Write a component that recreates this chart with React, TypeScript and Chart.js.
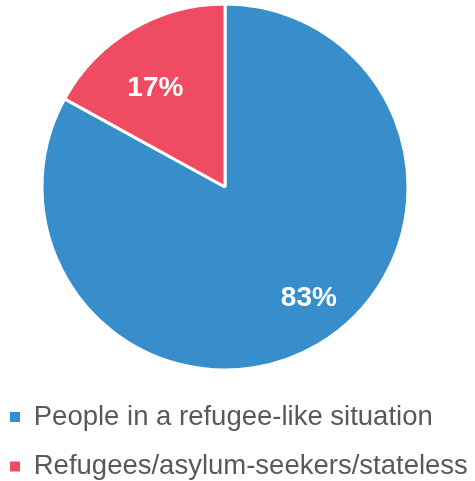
import React, { useEffect, useRef } from "react";
import { Chart, registerables } from "chart.js";

Chart.register(...registerables);

const CATEGORIES = ["People in a refugee-like situation", "Refugees/asylum-seekers/stateless"];
const VALUES = [83, 17];
const COLORS = ["#378ECB", "#EF4C63"];
const LEGEND_TEXT_COLOR = "#595959";

const valueLabels = {
  id: "valueLabels",
  afterDatasetsDraw(chart: any, _args: any, opts: any) {
    const { ctx } = chart;
    const meta = chart.getDatasetMeta(0);
    ctx.save();
    ctx.font = "bold 28px 'Liberation Sans', Arial, sans-serif";
    ctx.fillStyle = "#ffffff";
    ctx.textAlign = "center";
    ctx.textBaseline = "middle";
    meta.data.forEach((arc: any, i: number) => {
      const { x, y, startAngle, endAngle, outerRadius } = arc.getProps(
        ["x", "y", "startAngle", "endAngle", "outerRadius"],
        true
      );
      const mid = (startAngle + endAngle) / 2 + (opts.angleShift[i] * Math.PI) / 180;
      const r = outerRadius * opts.radiusFactor[i];
      ctx.fillText(`${VALUES[i]}%`, x + Math.cos(mid) * r, y + Math.sin(mid) * r);
    });
    ctx.restore();
  },
};

export default function App() {
  const ref = useRef<HTMLCanvasElement>(null);
  useEffect(() => {
    if (!ref.current) return;
    const chart = new Chart(ref.current, {
      type: "pie",
      data: {
        labels: CATEGORIES,
        datasets: [
          {
            data: VALUES,
            backgroundColor: COLORS,
            borderColor: "#ffffff",
            borderWidth: 3,
            hoverOffset: 0,
          },
        ],
      },
      options: {
        responsive: false,
        animation: false,
        devicePixelRatio: 1,
        layout: { padding: { top: 2.5, right: 0, left: 0, bottom: 0.75 } },
        plugins: {
          tooltip: { enabled: false },
          title: {
            display: true,
            position: "right",
            text: "",
            font: { size: 5, lineHeight: 1 },
            padding: { top: 4, bottom: 4 },
          },
          legend: {
            position: "bottom",
            align: "start",
            fullSize: true,
            title: {
              display: true,
              text: "",
              font: { size: 5, lineHeight: 1 },
              padding: { top: 0, bottom: 4.75 },
            },
            labels: {
              boxWidth: 10,
              boxHeight: 10,
              padding: 22,
              color: LEGEND_TEXT_COLOR,
              font: { family: "'Liberation Sans', Arial, sans-serif", size: 27.5 },
              generateLabels: (c: any) =>
                c.data.labels.map((text: string, i: number) => ({
                  text,
                  fillStyle: COLORS[i],
                  strokeStyle: COLORS[i],
                  lineWidth: 0,
                  hidden: false,
                  index: i,
                  fontColor: LEGEND_TEXT_COLOR,
                })),
            },
          },
          valueLabels: { angleShift: [-6.5, -4.6], radiusFactor: [0.76, 0.66] },
        } as any,
      },
      plugins: [valueLabels],
    });
    return () => chart.destroy();
  }, []);
  return (
    <div style={{ position: "absolute", left: 0, top: 0, width: 475, height: 481, overflow: "hidden", background: "#fff" }}>
      <canvas ref={ref} width={487} height={491} style={{ position: "absolute", left: -12, top: 0 }} />
    </div>
  );
}
